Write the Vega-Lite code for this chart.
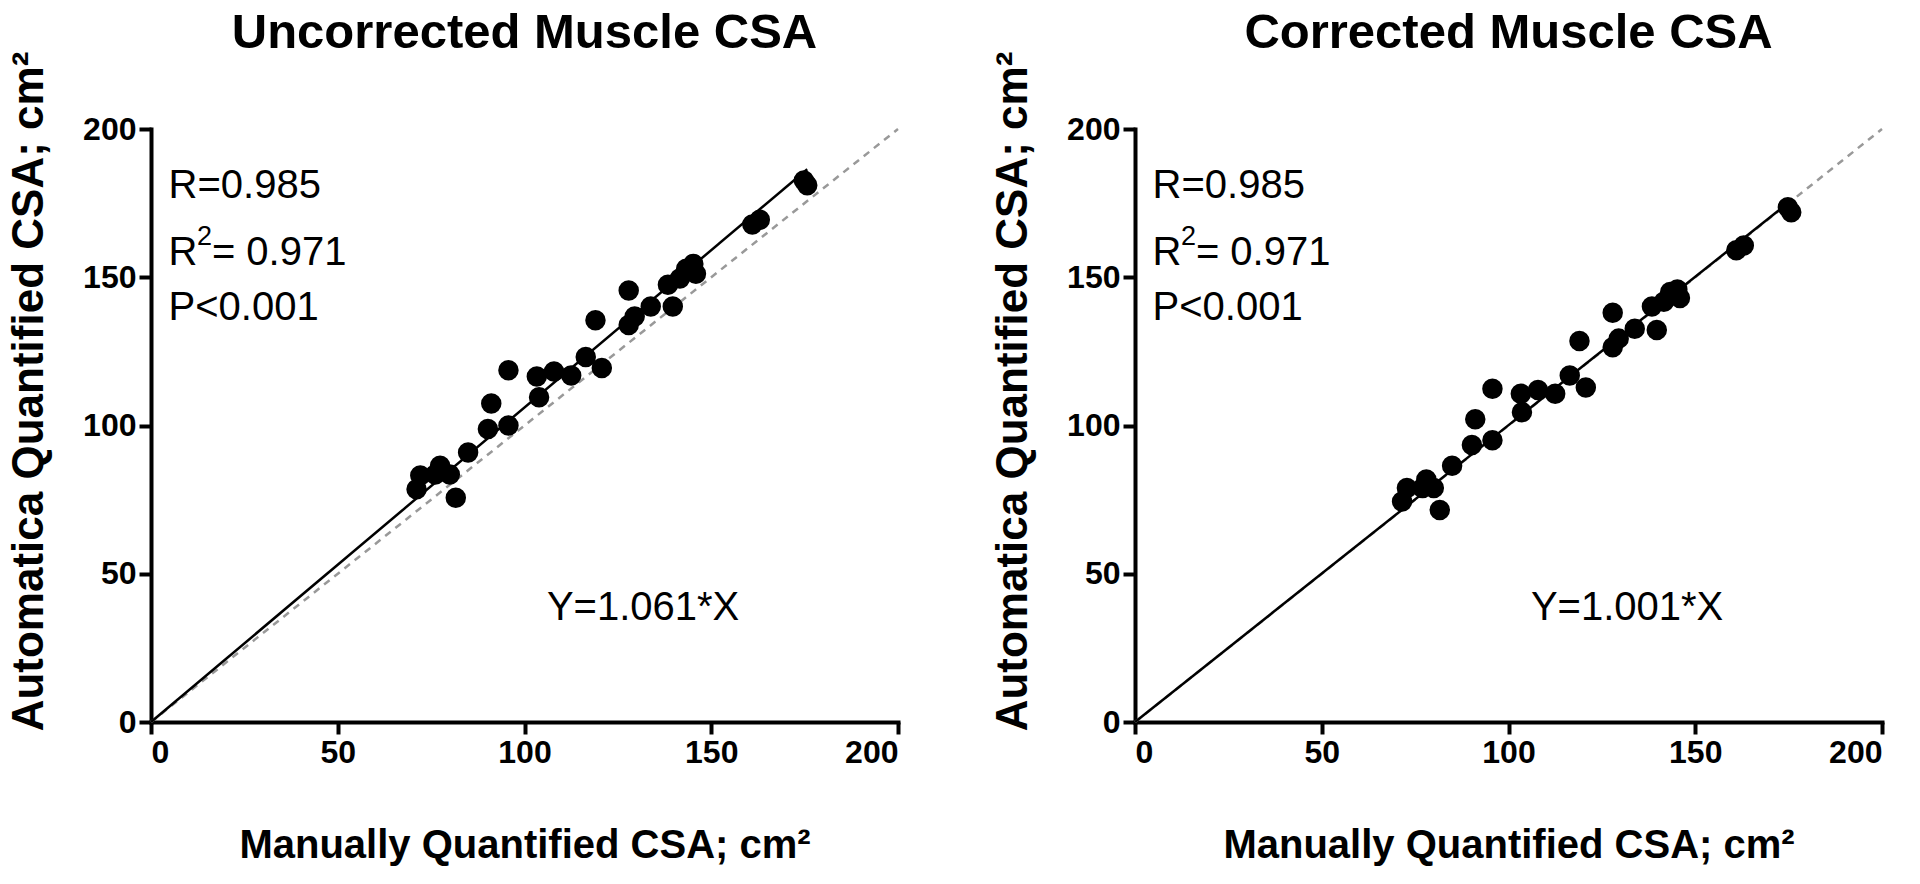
{
  "$schema": "https://vega.github.io/schema/vega-lite/v6.json",
  "background": "white",
  "padding": {"left": 7, "top": 9, "right": 5, "bottom": 5},
  "datasets": {
    "uncorrected": [
      {"manual": 71.1, "auto": 78.5}, {"manual": 72.1, "auto": 83.1}, {"manual": 76.1, "auto": 83.5},
      {"manual": 77.4, "auto": 86.4}, {"manual": 80.0, "auto": 83.5}, {"manual": 81.6, "auto": 75.6},
      {"manual": 84.9, "auto": 90.9}, {"manual": 90.2, "auto": 98.8}, {"manual": 91.1, "auto": 107.4},
      {"manual": 95.7, "auto": 100.0}, {"manual": 95.7, "auto": 118.6}, {"manual": 103.9, "auto": 109.5},
      {"manual": 103.3, "auto": 116.5}, {"manual": 107.9, "auto": 118.2}, {"manual": 112.5, "auto": 116.9},
      {"manual": 116.4, "auto": 123.1}, {"manual": 119.0, "auto": 135.5}, {"manual": 120.7, "auto": 119.4},
      {"manual": 127.9, "auto": 145.5}, {"manual": 127.9, "auto": 133.9}, {"manual": 129.5, "auto": 136.8},
      {"manual": 133.8, "auto": 140.1}, {"manual": 138.4, "auto": 147.5}, {"manual": 139.7, "auto": 140.1},
      {"manual": 141.6, "auto": 149.6}, {"manual": 143.3, "auto": 152.9}, {"manual": 145.2, "auto": 154.5},
      {"manual": 145.9, "auto": 151.2}, {"manual": 161.0, "auto": 167.8}, {"manual": 163.0, "auto": 169.4},
      {"manual": 174.8, "auto": 182.6}, {"manual": 175.7, "auto": 181.0}
    ],
    "corrected": [
      {"manual": 71.5, "auto": 74.4}, {"manual": 72.8, "auto": 78.9}, {"manual": 77.0, "auto": 78.9},
      {"manual": 78.0, "auto": 81.8}, {"manual": 80.0, "auto": 78.9}, {"manual": 81.6, "auto": 71.5},
      {"manual": 84.9, "auto": 86.4}, {"manual": 90.2, "auto": 93.4}, {"manual": 91.1, "auto": 102.1},
      {"manual": 95.7, "auto": 95.0}, {"manual": 95.7, "auto": 112.4}, {"manual": 103.6, "auto": 104.5},
      {"manual": 103.3, "auto": 110.7}, {"manual": 107.9, "auto": 112.0}, {"manual": 112.5, "auto": 110.7},
      {"manual": 116.4, "auto": 116.9}, {"manual": 119.0, "auto": 128.5}, {"manual": 120.7, "auto": 112.8},
      {"manual": 127.9, "auto": 138.0}, {"manual": 127.9, "auto": 126.4}, {"manual": 129.5, "auto": 129.3},
      {"manual": 133.8, "auto": 132.6}, {"manual": 138.4, "auto": 140.1}, {"manual": 139.7, "auto": 132.2},
      {"manual": 141.6, "auto": 141.7}, {"manual": 143.3, "auto": 145.0}, {"manual": 145.2, "auto": 145.9},
      {"manual": 145.9, "auto": 143.0}, {"manual": 161.0, "auto": 159.1}, {"manual": 163.0, "auto": 160.7},
      {"manual": 174.8, "auto": 173.6}, {"manual": 175.7, "auto": 171.9}
    ],
    "identity": [{"manual": 0, "auto": 0}, {"manual": 200, "auto": 200}],
    "fitU": [{"manual": 0, "auto": 0}, {"manual": 175.7, "auto": 186.4}],
    "fitC": [{"manual": 0, "auto": 0}, {"manual": 175.7, "auto": 175.9}],
    "statsU": [
      {"manual": 4.7, "auto": 180.8, "label": "R=0.985"},
      {"manual": 4.7, "auto": 158.2, "label": "R"},
      {"manual": 16.3, "auto": 158.2, "label": "= 0.971"},
      {"manual": 4.7, "auto": 139.6, "label": "P<0.001"},
      {"manual": 106, "auto": 38.4, "label": "Y=1.061*X"}
    ],
    "supU": [{"manual": 12.3, "auto": 163.5, "label": "2"}],
    "statsC": [
      {"manual": 4.7, "auto": 180.8, "label": "R=0.985"},
      {"manual": 4.7, "auto": 158.2, "label": "R"},
      {"manual": 16.3, "auto": 158.2, "label": "= 0.971"},
      {"manual": 4.7, "auto": 139.6, "label": "P<0.001"},
      {"manual": 106, "auto": 38.4, "label": "Y=1.001*X"}
    ],
    "supC": [{"manual": 12.3, "auto": 163.5, "label": "2"}]
  },
  "config": {
    "view": {"stroke": null},
    "axis": {
      "grid": false,
      "labelFont": "Liberation Sans",
      "labelFontWeight": "bold",
      "labelFontSize": 32,
      "labelColor": "black",
      "labelPadding": 3,
      "titleFont": "Liberation Sans",
      "titleFontWeight": "bold",
      "titleColor": "black",
      "domainColor": "black",
      "domainWidth": 4,
      "tickColor": "black",
      "tickWidth": 4,
      "tickSize": 12,
      "domainCap": "square"
    },
    "title": {
      "font": "Liberation Sans",
      "fontWeight": "bold",
      "fontSize": 49,
      "color": "black",
      "anchor": "middle",
      "offset": -7
    },
    "text": {"font": "Liberation Sans", "fontSize": 40, "color": "black"}
  },
  "spacing": 88,
  "hconcat": [
    {
      "title": "Uncorrected Muscle CSA",
      "width": 747,
      "height": 593,
      "encoding": {
        "x": {"field": "manual", "type": "quantitative",
          "scale": {"domain": [0, 200], "nice": false},
          "axis": {"values": [0, 50, 100, 150, 200], "title": "Manually Quantified CSA; cm²", "titleFontSize": 40, "titlePadding": 57}},
        "y": {"field": "auto", "type": "quantitative",
          "scale": {"domain": [0, 200], "nice": false},
          "axis": {"values": [0, 50, 100, 150, 200], "title": "Automatica Quantified CSA; cm²", "titleFontSize": 44, "titlePadding": 31, "titleY": 262}}
      },
      "layer": [
        {"data": {"name": "identity"}, "mark": {"type": "line", "color": "#999999", "strokeWidth": 2.5, "strokeDash": [7, 6]}},
        {"data": {"name": "fitU"}, "mark": {"type": "line", "color": "black", "strokeWidth": 2.5}},
        {"data": {"name": "uncorrected"}, "mark": {"type": "point", "filled": true, "shape": "circle", "color": "black", "opacity": 1, "size": 420}},
        {"data": {"name": "statsU"}, "mark": {"type": "text", "align": "left", "baseline": "middle"}, "encoding": {"text": {"field": "label"}}},
        {"data": {"name": "supU"}, "mark": {"type": "text", "align": "left", "baseline": "middle", "fontSize": 27}, "encoding": {"text": {"field": "label"}}}
      ]
    },
    {
      "title": "Corrected Muscle CSA",
      "width": 747,
      "height": 593,
      "encoding": {
        "x": {"field": "manual", "type": "quantitative",
          "scale": {"domain": [0, 200], "nice": false},
          "axis": {"values": [0, 50, 100, 150, 200], "title": "Manually Quantified CSA; cm²", "titleFontSize": 40, "titlePadding": 57}},
        "y": {"field": "auto", "type": "quantitative",
          "scale": {"domain": [0, 200], "nice": false},
          "axis": {"values": [0, 50, 100, 150, 200], "title": "Automatica Quantified CSA; cm²", "titleFontSize": 44, "titlePadding": 31, "titleY": 262}}
      },
      "layer": [
        {"data": {"name": "identity"}, "mark": {"type": "line", "color": "#999999", "strokeWidth": 2.5, "strokeDash": [7, 6]}},
        {"data": {"name": "fitC"}, "mark": {"type": "line", "color": "black", "strokeWidth": 2.5}},
        {"data": {"name": "corrected"}, "mark": {"type": "point", "filled": true, "shape": "circle", "color": "black", "opacity": 1, "size": 420}},
        {"data": {"name": "statsC"}, "mark": {"type": "text", "align": "left", "baseline": "middle"}, "encoding": {"text": {"field": "label"}}},
        {"data": {"name": "supC"}, "mark": {"type": "text", "align": "left", "baseline": "middle", "fontSize": 27}, "encoding": {"text": {"field": "label"}}}
      ]
    }
  ]
}
